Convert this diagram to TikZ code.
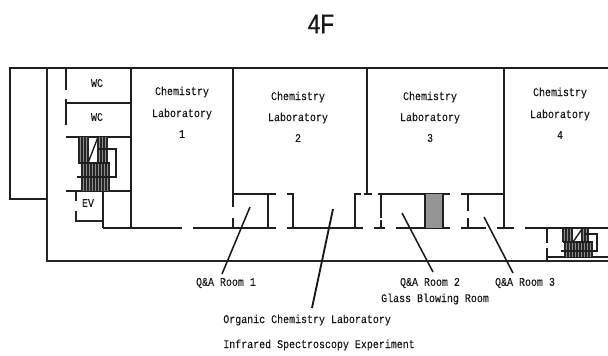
\documentclass[tikz,border=0pt]{standalone}
\usepackage{fontspec}
\setmainfont[FakeStretch=0.85,FakeBold=0.1]{Liberation Mono}
\newfontfamily\titlefont[FakeStretch=0.82,FakeBold=0.6]{Liberation Sans}
\tikzset{
  wall/.style={draw=black!88,line width=1.05pt,line cap=butt},
  thinwall/.style={draw=black!85,line width=0.95pt},
  leader/.style={draw=black!90,line width=1.15pt},
  lab/.style={font=\fontsize{8.8}{10}\selectfont,inner sep=0pt,text=black!90},
  labl/.style={lab,anchor=west},
  hatch/.style={fill=black!45,draw=none},
  hline/.style={draw=black!85,line width=0.85pt},
}
\newcommand{\hatchrect}[4]{% x1 x2 y1 y2
  \fill[hatch] (#1,#3) rectangle (#2,#4);
  \foreach \xx in {#1,\the\numexpr#1+3\relax,...,#2}{\draw[hline] (\xx,#3) -- (\xx,#4);}
}
\begin{document}
\begin{tikzpicture}[x=0.75pt,y=-0.75pt]
\useasboundingbox (0,0) rectangle (608,355);
\fill[white] (0,0) rectangle (608,355);
% outer walls
\draw[wall] (608,68) -- (10,68) -- (10,199) -- (47,199);
\draw[thinwall] (47,68) -- (47,261) -- (608,261);
% toilets and core
\draw[wall] (66,68) -- (66,90) (66,99) -- (66,125);
\draw[wall] (66,103) -- (131,103);
\draw[wall] (66,137) -- (131,137);
\draw[wall] (66,191) -- (131,191);
\draw[wall,line width=1.25pt] (131,68) -- (131,228);
% EV
\draw[thinwall] (76,191) -- (76,201) (76,211) -- (76,221) -- (103,221);
\draw[wall] (103,191) -- (103,228);
% main stairs
\hatchrect{79}{88}{137}{163}
\hatchrect{98}{107}{137}{163}
\hatchrect{82}{109}{163}{191}
\draw[wall] (88,163) -- (98,137);
\draw[wall] (78,163) -- (110,163);
\draw[wall] (77,177) -- (116,177) -- (116,149) -- (99,149);
% corridor wall
\draw[wall] (103,228) -- (182,228) (193,228) -- (276,228) (287,228) -- (363,228)
  (374,228) -- (385,228) (396,228) -- (450,228) (461,228) -- (486,228)
  (497,228) -- (514,228) (525,228) -- (608,228);
% room partitions
\draw[wall] (233,68) -- (233,207) (233,218) -- (233,228);
\draw[wall] (233,194) -- (276,194);
\draw[wall] (268,194) -- (268,228);
\draw[wall] (287,194) -- (293,194) -- (293,228);
\draw[wall] (355,228) -- (355,194) -- (361,194);
\draw[wall] (367,68) -- (367,194);
\draw[wall] (364,194) -- (372,194);
\draw[wall] (378,194) -- (450,194);
\draw[wall] (381,194) -- (381,218) (381,220) -- (381,228);
\fill[black!42] (425,194) rectangle (443,228);
\draw[wall] (425,194) -- (425,228);
\draw[wall,line width=1.25pt] (443,194) -- (443,228);
\draw[wall] (461,194) -- (504,194);
\draw[wall] (468,194) -- (468,211) (468,218) -- (468,228);
\draw[wall] (504,68) -- (504,228);
% small stairs
\draw[wall] (547,228) -- (547,243) (547,248) -- (547,261);
\draw[wall] (547,257) -- (608,257);
\hatchrect{563}{573}{229}{242}
\hatchrect{582}{589}{229}{242}
\hatchrect{565}{592}{242}{257}
\draw[wall] (573,242) -- (582,229);
\draw[wall] (563,242) -- (593,242);
\draw[wall] (561,251) -- (597,251) -- (597,234) -- (585,234);
% texts
\node[font=\titlefont\fontsize{20.5}{22}\selectfont,inner sep=0pt,text=black!90] (title) at (321,24) {4F};
\node[lab] (wc1) at (97,83) {WC};
\node[lab] (wc2) at (97,117) {WC};
\node[lab] (ev) at (88,203) {EV};
\node[lab,align=center] (l1a) at (182,92) {Chemistry};
\node[lab] (l1b) at (182,114) {Laboratory};
\node[lab] (l1c) at (182,134) {1};
\node[lab] (l2a) at (298,97) {Chemistry};
\node[lab] (l2b) at (298,118) {Laboratory};
\node[lab] (l2c) at (298,138) {2};
\node[lab] (l3a) at (430,97) {Chemistry};
\node[lab] (l3b) at (430,118) {Laboratory};
\node[lab] (l3c) at (430,138) {3};
\node[lab] (l4a) at (560,93) {Chemistry};
\node[lab] (l4b) at (560,115) {Laboratory};
\node[lab] (l4c) at (560,135) {4};
\node[lab] (qa1) at (226,283) {Q\&A Room 1};
\node[lab] (qa2) at (430,283) {Q\&A Room 2};
\node[lab] (glass) at (435,299) {Glass Blowing Room};
\node[lab] (qa3) at (525,283) {Q\&A Room 3};
\node[labl] (org) at (223,320) {Organic Chemistry Laboratory};
\node[labl] (ir) at (223,345) {Infrared Spectroscopy Experiment};
% leaders
\coordinate (a1) at (250,207); \coordinate (b1) at (222,274);
\coordinate (a2) at (333,209); \coordinate (b2) at (312,308);
\coordinate (a3) at (402,213); \coordinate (b3) at (433,272);
\coordinate (a4) at (484,217); \coordinate (b4) at (513,273);
\draw[leader] (a1) -- (b1);
\draw[leader,line width=1.4pt] (a2) -- (b2);
\draw[leader] (a3) -- (b3);
\draw[leader] (a4) -- (b4);
\end{tikzpicture}
\end{document}
